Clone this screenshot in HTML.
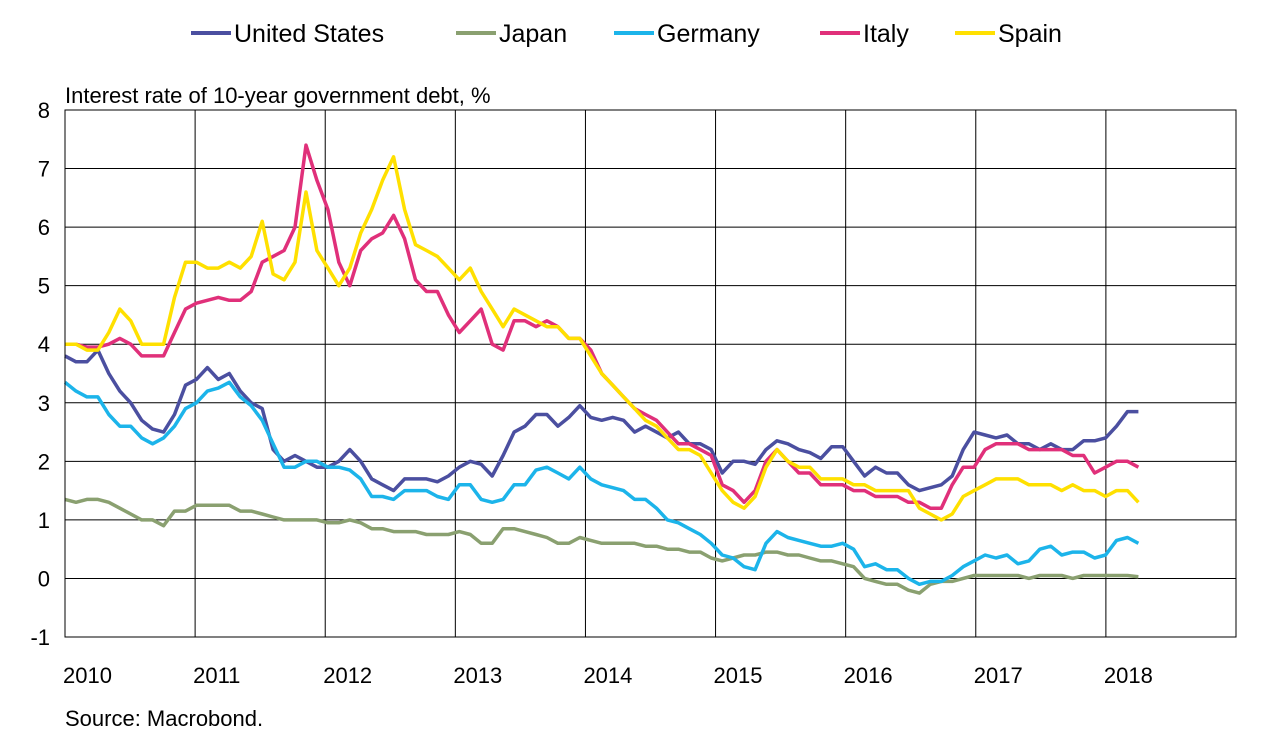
<!DOCTYPE html>
<html><head><meta charset="utf-8"><style>
body{margin:0;background:#fff;}
svg text{font-family:"Liberation Sans",Arial,sans-serif;fill:#000;}
</style></head><body>
<svg width="1280" height="737" viewBox="0 0 1280 737">
<g id="grid"></g>
<g id="series"></g>
<g id="axes"></g>
<text x="65" y="103" font-size="22">Interest rate of 10-year government debt, %</text>
<text x="65" y="726" font-size="22">Source: Macrobond.</text>
<g id="legend"></g>
</svg>
<script>
const years=[2010,2011,2012,2013,2014,2015,2016,2017,2018];
const yTicks=[-1,0,1,2,3,4,5,6,7,8];
const seriesNames=["United States","Japan","Germany","Italy","Spain"];
const seriesColors=["#4B4FA0","#8AA070","#1CB4EA","#E0307A","#FFE000"];
const us=[3.8,3.7,3.7,3.9,3.5,3.2,3.0,2.7,2.55,2.5,2.8,3.3,3.4,3.6,3.4,3.5,3.2,3.0,2.9,2.2,2.0,2.1,2.0,1.9,1.9,2.0,2.2,2.0,1.7,1.6,1.5,1.7,1.7,1.7,1.65,1.75,1.9,2.0,1.95,1.75,2.1,2.5,2.6,2.8,2.8,2.6,2.75,2.95,2.75,2.7,2.75,2.7,2.5,2.6,2.5,2.4,2.5,2.3,2.3,2.2,1.8,2.0,2.0,1.95,2.2,2.35,2.3,2.2,2.15,2.05,2.25,2.25,2.0,1.75,1.9,1.8,1.8,1.6,1.5,1.55,1.6,1.75,2.2,2.5,2.45,2.4,2.45,2.3,2.3,2.2,2.3,2.2,2.2,2.35,2.35,2.4,2.6,2.85,2.85];
const japan=[1.35,1.3,1.35,1.35,1.3,1.2,1.1,1.0,1.0,0.9,1.15,1.15,1.25,1.25,1.25,1.25,1.15,1.15,1.1,1.05,1.0,1.0,1.0,1.0,0.95,0.95,1.0,0.95,0.85,0.85,0.8,0.8,0.8,0.75,0.75,0.75,0.8,0.75,0.6,0.6,0.85,0.85,0.8,0.75,0.7,0.6,0.6,0.7,0.65,0.6,0.6,0.6,0.6,0.55,0.55,0.5,0.5,0.45,0.45,0.35,0.3,0.35,0.4,0.4,0.45,0.45,0.4,0.4,0.35,0.3,0.3,0.25,0.2,0.0,-0.05,-0.1,-0.1,-0.2,-0.25,-0.1,-0.05,-0.05,0.0,0.05,0.05,0.05,0.05,0.05,0.0,0.05,0.05,0.05,0.0,0.05,0.05,0.05,0.05,0.05,0.03];
const germany=[3.35,3.2,3.1,3.1,2.8,2.6,2.6,2.4,2.3,2.4,2.6,2.9,3.0,3.2,3.25,3.35,3.1,2.95,2.7,2.3,1.9,1.9,2.0,2.0,1.9,1.9,1.85,1.7,1.4,1.4,1.35,1.5,1.5,1.5,1.4,1.35,1.6,1.6,1.35,1.3,1.35,1.6,1.6,1.85,1.9,1.8,1.7,1.9,1.7,1.6,1.55,1.5,1.35,1.35,1.2,1.0,0.95,0.85,0.75,0.6,0.4,0.35,0.2,0.15,0.6,0.8,0.7,0.65,0.6,0.55,0.55,0.6,0.5,0.2,0.25,0.15,0.15,0.0,-0.1,-0.05,-0.05,0.05,0.2,0.3,0.4,0.35,0.4,0.25,0.3,0.5,0.55,0.4,0.45,0.45,0.35,0.4,0.65,0.7,0.6];
const italy=[4.0,4.0,3.95,3.95,4.0,4.1,4.0,3.8,3.8,3.8,4.2,4.6,4.7,4.75,4.8,4.75,4.75,4.9,5.4,5.5,5.6,6.0,7.4,6.8,6.3,5.4,5.0,5.6,5.8,5.9,6.2,5.8,5.1,4.9,4.9,4.5,4.2,4.4,4.6,4.0,3.9,4.4,4.4,4.3,4.4,4.3,4.1,4.1,3.9,3.5,3.3,3.1,2.9,2.8,2.7,2.5,2.3,2.3,2.2,2.1,1.6,1.5,1.3,1.5,2.0,2.2,2.0,1.8,1.8,1.6,1.6,1.6,1.5,1.5,1.4,1.4,1.4,1.3,1.3,1.2,1.2,1.6,1.9,1.9,2.2,2.3,2.3,2.3,2.2,2.2,2.2,2.2,2.1,2.1,1.8,1.9,2.0,2.0,1.9];
const spain=[4.0,4.0,3.9,3.9,4.2,4.6,4.4,4.0,4.0,4.0,4.8,5.4,5.4,5.3,5.3,5.4,5.3,5.5,6.1,5.2,5.1,5.4,6.6,5.6,5.3,5.0,5.3,5.9,6.3,6.8,7.2,6.3,5.7,5.6,5.5,5.3,5.1,5.3,4.9,4.6,4.3,4.6,4.5,4.4,4.3,4.3,4.1,4.1,3.8,3.5,3.3,3.1,2.9,2.7,2.6,2.4,2.2,2.2,2.1,1.8,1.5,1.3,1.2,1.4,1.9,2.2,2.0,1.9,1.9,1.7,1.7,1.7,1.6,1.6,1.5,1.5,1.5,1.5,1.2,1.1,1.0,1.1,1.4,1.5,1.6,1.7,1.7,1.7,1.6,1.6,1.6,1.5,1.6,1.5,1.5,1.4,1.5,1.5,1.3];
const allSeries=[us,japan,germany,italy,spain];

const L=65,R=1236,T=110,B=637;
const xS=t=>L+(t-2010)/9*(R-L);
const yS=v=>B-(v+1)/9*(B-T);
const tOf=(k,n)=>2010+k*(8.25/(n-1));
const NS="http://www.w3.org/2000/svg";
function mk(tag,attrs,parent){const e=document.createElementNS(NS,tag);for(const k in attrs)e.setAttribute(k,attrs[k]);parent.appendChild(e);return e;}
const grid=document.getElementById('grid'),axes=document.getElementById('axes'),ser=document.getElementById('series'),leg=document.getElementById('legend');
yTicks.forEach(v=>{
  const l=mk('line',{x1:L,x2:R,y1:yS(v),y2:yS(v),stroke:'#000','stroke-width':1},grid);
  
  
  const t=mk('text',{x:50,y:yS(v)+8,'font-size':22,'text-anchor':'end'},axes);
  t.textContent=v;
  
  
});
years.forEach(y=>{
  if(y>2010){const l=mk('line',{x1:xS(y),x2:xS(y),y1:T,y2:B,stroke:'#000','stroke-width':1},grid);
  
  }
  const t=mk('text',{x:xS(y)-2,y:683,'font-size':22},axes);
  t.textContent=y;
  
  
});
const f=mk('rect',{x:L,y:T,width:R-L,height:B-T,fill:'none',stroke:'#000','stroke-width':1},axes);


const order=[1,0,2,3,4];
order.forEach(i=>{
  const s=allSeries[i];
  const d=s.map((v,k)=>(k?'L':'M')+xS(tOf(k,s.length)).toFixed(1)+','+yS(v).toFixed(1)).join('');
  const p=mk('path',{d:d,fill:'none',stroke:seriesColors[i],'stroke-width':3.5,'stroke-linejoin':'round'},ser);
  
  
});
const legX=[191,456,614,820,955];
seriesNames.forEach((n,i)=>{
  const l=mk('line',{x1:legX[i],x2:legX[i]+40,y1:33,y2:33,stroke:seriesColors[i],'stroke-width':4},leg);
  
  
  const t=mk('text',{x:legX[i]+43,y:42,'font-size':25},leg);
  t.textContent=n;
  
  
});
</script>
</body></html>
